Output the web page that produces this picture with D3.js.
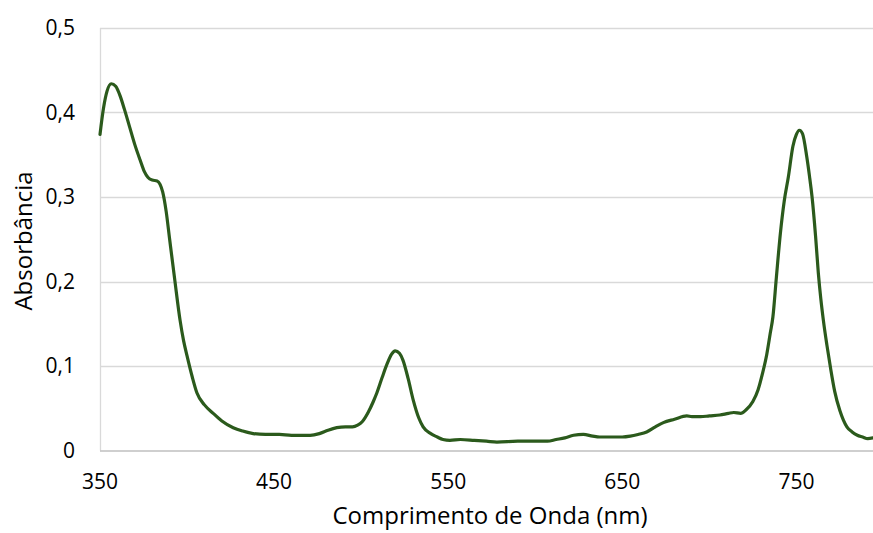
<!DOCTYPE html>
<html>
<head>
<meta charset="utf-8">
<script src="https://cdn.jsdelivr.net/npm/d3@7"></script>
<style>
  html, body { margin: 0; padding: 0; background: #fff; }
  svg { display: block; }
  text { font-family: "Open Sans", "DejaVu Sans", sans-serif; fill: #000; }
</style>
</head>
<body>
<svg id="chart" width="873" height="533"></svg>
<script>
// Absorption spectrum: wavelength (nm) and absorbance
const wavelength = [
  350, 352, 354, 356.5, 359, 361.5, 364, 367, 370, 373, 375.5, 377.6, 380, 382.8, 384.5, 386, 388, 390,
  393, 396, 398, 400, 403, 405.7, 410, 415, 420, 426.5, 432, 438, 445, 453, 460, 465, 470.7, 476, 481,
  486, 491, 495, 498, 500.6, 504, 507, 509, 512, 515, 517.5, 519.5, 522, 524, 527, 530, 533, 535.6, 540,
  543.7, 547, 551, 557, 565, 572, 578, 590, 600, 607, 612, 617, 622, 627.6, 633, 637, 645, 650, 654.6,
  659, 664, 669, 673.6, 680, 687, 690, 695, 700, 706, 711, 714, 718, 721, 725, 728, 730.5, 733, 735,
  736.5, 738.5, 740.8, 743, 745.4, 748, 750, 751.7, 753.5, 756, 757.5, 759, 761, 762.6, 764, 765.5,
  767.5, 769.5, 772, 775, 777, 779, 782, 785, 788, 791, 794
];
const absorbance = [
  0.374, 0.405, 0.425, 0.434, 0.431, 0.420, 0.404, 0.383, 0.362, 0.344, 0.330, 0.323, 0.320, 0.319, 0.315, 0.306, 0.283, 0.250,
  0.201, 0.154, 0.130, 0.112, 0.087, 0.068, 0.054, 0.044, 0.035, 0.027, 0.023, 0.020, 0.019, 0.019, 0.018, 0.018, 0.018, 0.020, 0.024,
  0.027, 0.028, 0.028, 0.030, 0.034, 0.045, 0.058, 0.068, 0.086, 0.103, 0.114, 0.118, 0.115, 0.107, 0.085, 0.059, 0.039, 0.028, 0.020,
  0.016, 0.013, 0.012, 0.013, 0.012, 0.011, 0.010, 0.011, 0.011, 0.011, 0.013, 0.015, 0.018, 0.019, 0.017, 0.016, 0.016, 0.016, 0.017,
  0.019, 0.022, 0.028, 0.033, 0.037, 0.041, 0.040, 0.040, 0.041, 0.042, 0.044, 0.045, 0.044, 0.048, 0.058, 0.072, 0.091, 0.114, 0.139,
  0.158, 0.205, 0.257, 0.295, 0.324, 0.360, 0.374, 0.379, 0.375, 0.347, 0.325, 0.300, 0.254, 0.210, 0.180, 0.154,
  0.125, 0.099, 0.070, 0.047, 0.036, 0.028, 0.022, 0.018, 0.016, 0.014, 0.015
];
const xTicks = [350, 450, 550, 650, 750];
const yTicks = [0, 0.1, 0.2, 0.3, 0.4, 0.5];
const xTitle = "Comprimento de Onda (nm)";
const yTitle = "Absorbância";

const svg = d3.select("#chart");
const plotLeft = 100, plotRight = 873, plotTop = 28, plotBottom = 450.5;

const x = d3.scaleLinear().domain([350, 794]).range([plotLeft, plotRight]);
const y = d3.scaleLinear().domain([0, 0.5]).range([plotBottom, plotTop]);

const fmt = v => v === 0 ? "0" : d3.format(".1f")(v).replace(".", ",");

// horizontal gridlines
svg.append("g")
  .selectAll("line")
  .data(yTicks.filter(v => v > 0))
  .join("line")
  .attr("x1", plotLeft).attr("x2", plotRight)
  .attr("y1", d => Math.round(y(d)) + 0.5).attr("y2", d => Math.round(y(d)) + 0.5)
  .attr("stroke", "#d9d9d9").attr("stroke-width", 1.3);

// left axis line
svg.append("line")
  .attr("x1", plotLeft + 0.5).attr("x2", plotLeft + 0.5)
  .attr("y1", plotTop).attr("y2", plotBottom)
  .attr("stroke", "#d9d9d9").attr("stroke-width", 1.3);

// y tick labels
svg.append("g")
  .selectAll("text")
  .data(yTicks)
  .join("text")
  .attr("x", 75)
  .attr("y", d => y(d))
  .attr("dy", "0.35em")
  .attr("text-anchor", "end")
  .attr("font-size", 21)
  .text(fmt);

// x tick labels
svg.append("g")
  .selectAll("text")
  .data(xTicks)
  .join("text")
  .attr("x", d => x(d))
  .attr("y", 482)
  .attr("dy", "0.35em")
  .attr("text-anchor", "middle")
  .attr("font-size", 21)
  .text(d => d);

// axis titles
svg.append("text")
  .attr("x", 490).attr("y", 524)
  .attr("text-anchor", "middle")
  .attr("font-size", 24)
  .text(xTitle);

svg.append("text")
  .attr("transform", "translate(32,241) rotate(-90)")
  .attr("text-anchor", "middle")
  .attr("font-size", 24)
  .text(yTitle);

// spectrum line
const pts = wavelength.map((w, i) => [w, absorbance[i]]);
const line = d3.line()
  .x(d => x(d[0]))
  .y(d => y(d[1]))
  .curve(d3.curveMonotoneX);

svg.append("path")
  .datum(pts)
  .attr("d", line)
  .attr("fill", "none")
  .attr("stroke", "#2b5a1c")
  .attr("stroke-width", 3.2)
  .attr("stroke-linejoin", "round")
  .attr("stroke-linecap", "round");

// bottom axis line
svg.append("line")
  .attr("x1", plotLeft).attr("x2", plotRight)
  .attr("y1", plotBottom + 0.5).attr("y2", plotBottom + 0.5)
  .attr("stroke", "#bfbfbf").attr("stroke-width", 1.5);
</script>
</body>
</html>
